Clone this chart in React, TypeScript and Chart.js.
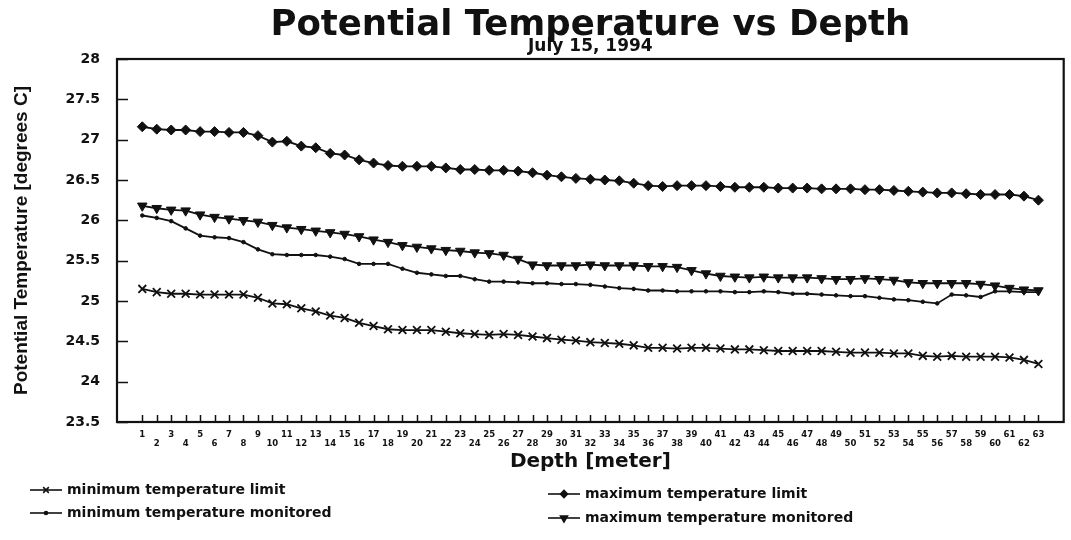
import React, { useEffect, useRef } from "react";
import { Chart, registerables } from "chart.js";
import { drawPoint } from "chart.js/helpers";

Chart.register(...registerables);

const depths = [1, 2, 3, 4, 5, 6, 7, 8, 9, 10, 11, 12, 13, 14, 15, 16, 17, 18, 19, 20, 21, 22, 23, 24, 25, 26, 27, 28, 29, 30, 31, 32, 33, 34, 35, 36, 37, 38, 39, 40, 41, 42, 43, 44, 45, 46, 47, 48, 49, 50, 51, 52, 53, 54, 55, 56, 57, 58, 59, 60, 61, 62, 63];

const minLimit = [25.15, 25.11, 25.09, 25.09, 25.08, 25.08, 25.08, 25.08, 25.04, 24.97, 24.96, 24.91, 24.87, 24.82, 24.79, 24.73, 24.69, 24.65, 24.64, 24.64, 24.64, 24.62, 24.6, 24.59, 24.58, 24.59, 24.58, 24.56, 24.54, 24.52, 24.51, 24.49, 24.48, 24.47, 24.45, 24.42, 24.42, 24.41, 24.42, 24.42, 24.41, 24.4, 24.4, 24.39, 24.38, 24.38, 24.38, 24.38, 24.37, 24.36, 24.36, 24.36, 24.35, 24.35, 24.32, 24.31, 24.32, 24.31, 24.31, 24.31, 24.3, 24.27, 24.22];

const maxLimit = [27.16, 27.13, 27.12, 27.12, 27.1, 27.1, 27.09, 27.09, 27.05, 26.97, 26.98, 26.92, 26.9, 26.83, 26.81, 26.75, 26.71, 26.68, 26.67, 26.67, 26.67, 26.65, 26.63, 26.63, 26.62, 26.62, 26.61, 26.59, 26.56, 26.54, 26.52, 26.51, 26.5, 26.49, 26.46, 26.43, 26.42, 26.43, 26.43, 26.43, 26.42, 26.41, 26.41, 26.41, 26.4, 26.4, 26.4, 26.39, 26.39, 26.39, 26.38, 26.38, 26.37, 26.36, 26.35, 26.34, 26.34, 26.33, 26.32, 26.32, 26.32, 26.3, 26.25];

const minMonitored = [26.06, 26.03, 25.99, 25.9, 25.81, 25.79, 25.78, 25.73, 25.64, 25.58, 25.57, 25.57, 25.57, 25.55, 25.52, 25.46, 25.46, 25.46, 25.4, 25.35, 25.33, 25.31, 25.31, 25.27, 25.24, 25.24, 25.23, 25.22, 25.22, 25.21, 25.21, 25.2, 25.18, 25.16, 25.15, 25.13, 25.13, 25.12, 25.12, 25.12, 25.12, 25.11, 25.11, 25.12, 25.11, 25.09, 25.09, 25.08, 25.07, 25.06, 25.06, 25.04, 25.02, 25.01, 24.99, 24.97, 25.08, 25.07, 25.05, 25.12, 25.12, 25.11, 25.11];

const maxMonitored = [26.18, 26.15, 26.13, 26.12, 26.07, 26.04, 26.02, 26.0, 25.98, 25.94, 25.91, 25.89, 25.87, 25.85, 25.83, 25.8, 25.76, 25.73, 25.69, 25.67, 25.65, 25.63, 25.62, 25.6, 25.59, 25.57, 25.52, 25.45, 25.44, 25.44, 25.44, 25.45, 25.44, 25.44, 25.44, 25.43, 25.43, 25.42, 25.38, 25.34, 25.31, 25.3, 25.29, 25.3, 25.29, 25.29, 25.29, 25.28, 25.27, 25.27, 25.28, 25.27, 25.26, 25.23, 25.22, 25.22, 25.22, 25.22, 25.21, 25.19, 25.16, 25.14, 25.13];

const yTickValues = [23.5, 24, 24.5, 25, 25.5, 26, 26.5, 27, 27.5, 28];

const seriesNames = [
  "minimum temperature limit",
  "maximum temperature limit",
  "minimum temperature monitored",
  "maximum temperature monitored",
];

const INK = "#111111";
const WIDE = "'DejaVu Sans', 'Liberation Sans', sans-serif";
const ARIAL = "'Liberation Sans', Arial, sans-serif";

const framePlugin = {
  id: "frameTicks",
  afterDraw(chart: any) {
    const { ctx, chartArea } = chart;
    const x = chart.scales.x;
    const y = chart.scales.y;
    ctx.save();
    ctx.strokeStyle = INK;
    ctx.lineWidth = 2.2;
    ctx.strokeRect(chartArea.left, chartArea.top, chartArea.right - chartArea.left, chartArea.bottom - chartArea.top);
    ctx.lineWidth = 1.5;
    ctx.beginPath();
    yTickValues.forEach((v) => {
      const py = Math.round(y.getPixelForValue(v)) + 0.5;
      ctx.moveTo(chartArea.left, py);
      ctx.lineTo(chartArea.left + 11, py);
    });
    depths.forEach((d) => {
      const px = Math.round(x.getPixelForValue(d)) + 0.5;
      ctx.moveTo(px, chartArea.bottom);
      ctx.lineTo(px, chartArea.bottom - 7);
    });
    ctx.stroke();
    ctx.restore();
  },
};

const legendPlugin = {
  id: "twoColLegend",
  afterDraw(chart: any) {
    const { ctx } = chart;
    const positions = [
      { x: 30, y: 490 },
      { x: 548, y: 494 },
      { x: 30, y: 513 },
      { x: 548, y: 518 },
    ];
    ctx.save();
    chart.data.datasets.forEach((ds: any, i: number) => {
      const p = positions[i];
      const w = 32;
      ctx.strokeStyle = INK;
      ctx.fillStyle = INK;
      ctx.lineWidth = 1.6;
      ctx.beginPath();
      ctx.moveTo(p.x, p.y);
      ctx.lineTo(p.x + w, p.y);
      ctx.stroke();
      drawPoint(
        ctx,
        {
          pointStyle: ds.pointStyle,
          radius: Math.max(1.5, ds.pointRadius - 1.5),
          rotation: ds.pointRotation || 0,
          borderWidth: ds.pointBorderWidth || 1,
        } as any,
        p.x + w / 2,
        p.y
      );
      ctx.fillStyle = INK;
      ctx.font = "bold 14px " + WIDE;
      ctx.textBaseline = "middle";
      ctx.textAlign = "left";
      ctx.fillText(ds.label, p.x + w + 5, p.y);
    });
    ctx.restore();
  },
};

function toPoints(vals: number[]) {
  return depths.map((d, i) => ({ x: d, y: vals[i] }));
}

export default function App() {
  const ref = useRef<HTMLCanvasElement | null>(null);
  useEffect(() => {
    if (!ref.current) return;
    const common = {
      borderColor: INK,
      backgroundColor: INK,
      pointBackgroundColor: INK,
      pointBorderColor: INK,
      borderWidth: 1.8,
      tension: 0,
      fill: false,
    };
    const chart = new Chart(ref.current, {
      type: "line",
      data: {
        datasets: [
          { ...common, label: seriesNames[0], data: toPoints(minLimit), pointStyle: "crossRot", pointRadius: 5.5, pointBorderWidth: 1.8 },
          { ...common, label: seriesNames[1], data: toPoints(maxLimit), pointStyle: "rectRot", pointRadius: 5, pointBorderWidth: 1 },
          { ...common, label: seriesNames[2], data: toPoints(minMonitored), pointStyle: "circle", pointRadius: 1.8, pointBorderWidth: 1 },
          { ...common, label: seriesNames[3], data: toPoints(maxMonitored), pointStyle: "triangle", pointRotation: 180, pointRadius: 5.5, pointBorderWidth: 1 },
        ] as any,
      },
      options: {
        responsive: false,
        animation: false,
        events: [],
        layout: { padding: { left: 0, right: 4, top: 0, bottom: 62 } },
        plugins: {
          legend: { display: false },
          tooltip: { enabled: false },
          title: {
            display: true,
            fullSize: false,
            text: "Potential Temperature vs Depth",
            color: INK,
            font: { family: WIDE, size: 35.5, weight: "bold", lineHeight: 1 },
            padding: { top: 8, bottom: -5 },
          },
          subtitle: {
            display: true,
            fullSize: false,
            text: "July 15, 1994",
            color: INK,
            font: { family: WIDE, size: 17, weight: "bold", lineHeight: 1 },
            padding: { top: 0, bottom: 3.5 },
          },
        },
        scales: {
          x: {
            type: "linear",
            min: -0.75,
            max: 64.75,
            grid: { display: false, drawTicks: false },
            border: { display: false },
            afterBuildTicks: (scale: any) => {
              scale.ticks = depths.map((d) => ({ value: d }));
            },
            afterFit: (scale: any) => {
              scale.height = 56;
            },
            ticks: {
              autoSkip: false,
              maxRotation: 0,
              minRotation: 0,
              padding: 8,
              color: INK,
              font: { family: WIDE, size: 8.5, weight: "bold", lineHeight: 1.05 },
              callback: (v: any) => (Number(v) % 2 === 1 ? [String(v)] : ["", String(v)]),
            },
            title: {
              display: true,
              text: "Depth [meter]",
              color: INK,
              font: { family: WIDE, size: 20, weight: "bold", lineHeight: 1.2 },
              padding: { top: 0, bottom: 4 },
            },
          },
          y: {
            type: "linear",
            min: 23.5,
            max: 28,
            grid: { display: false, drawTicks: false },
            border: { display: false },
            afterBuildTicks: (scale: any) => {
              scale.ticks = yTickValues.map((v) => ({ value: v }));
            },
            afterFit: (scale: any) => {
              scale.width = 117;
            },
            ticks: {
              padding: 17,
              color: INK,
              font: { family: WIDE, size: 14, weight: "bold" },
              callback: (v: any) => String(v),
            },
            title: {
              display: true,
              text: "Potential Temperature [degrees C]",
              color: INK,
              font: { family: ARIAL, size: 19, weight: "bold", lineHeight: 1.2 },
              padding: { top: 10, bottom: 0 },
            },
          },
        },
      } as any,
      plugins: [framePlugin, legendPlugin],
    });
    return () => chart.destroy();
  }, []);
  return (
    <div style={{ position: "absolute", left: 0, top: 0, width: 1071, height: 540, background: "#fff" }}>
      <canvas ref={ref} width={1071} height={540} style={{ display: "block" }} />
    </div>
  );
}
